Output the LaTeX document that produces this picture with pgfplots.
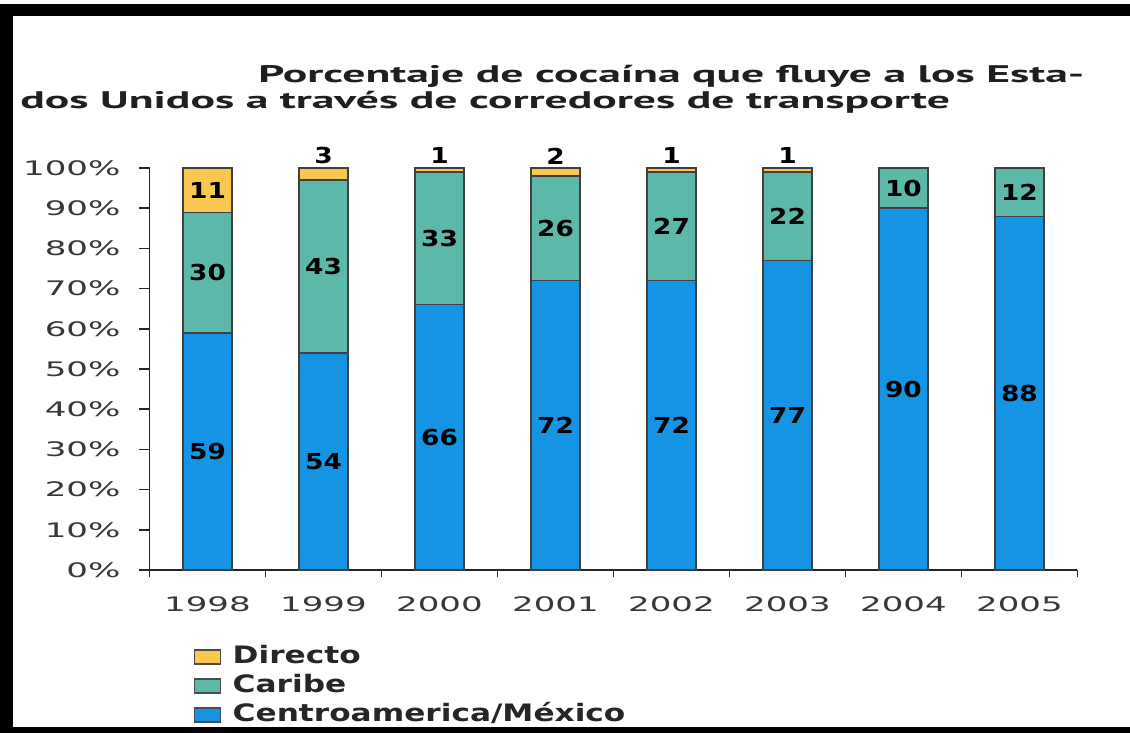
\documentclass[border=0pt]{standalone}
\usepackage{pgfplots}
\pgfplotsset{compat=1.18}
\usepackage{fontspec}
\setmainfont{DejaVu Sans}
\newfontfamily\tickfont[FakeStretch=1.7]{DejaVu Sans}
\newfontfamily\labfont[FakeStretch=1.2]{DejaVu Sans}
\newfontfamily\legfont[FakeStretch=1.3]{DejaVu Sans}
\newfontfamily\titfont[FakeStretch=1.9]{PT Sans}
\definecolor{cdir}{RGB}{249,200,80}
\definecolor{ccar}{RGB}{92,184,168}
\definecolor{ccen}{RGB}{22,148,228}
\definecolor{tickgray}{RGB}{55,55,55}

\begin{document}
\begin{tikzpicture}
\fill[white] (0,0) rectangle (565pt,366.5pt);
\path[use as bounding box] (0,0) rectangle (565pt,366.5pt);
\fill[black] (0,358.5pt) rectangle (565pt,364.5pt);
\fill[black] (0,0) rectangle (6.5pt,364.5pt);
\fill[black] (0,0) rectangle (565pt,3pt);

\node[anchor=base west, inner sep=0pt, text=black!88, font=\titfont\bfseries\fontsize{12}{14}\selectfont] at (129pt,325pt) {Porcentaje de cocaína que fluye a los Esta-};
\node[anchor=base west, inner sep=0pt, text=black!88, font=\titfont\bfseries\fontsize{12}{14}\selectfont] at (10pt,312pt) {dos Unidos a través de corredores de transporte};

\begin{axis}[
  at={(74.75pt,81.5pt)}, anchor=south west,
  scale only axis, width=464pt, height=201pt,
  ybar stacked, bar width=0.42,
  xmin=-0.5, xmax=7.5, ymin=0, ymax=100,
  clip=false,
  axis x line*=bottom, axis y line*=left,
  axis line style={black!85, line width=0.8pt},
  tick align=outside,
  ytick={0,10,20,30,40,50,60,70,80,90,100},
  yticklabels={0\%,10\%,20\%,30\%,40\%,50\%,60\%,70\%,80\%,90\%,100\%},
  yticklabel style={xshift=-6pt},
  xtick={0,1,2,3,4,5,6,7},
  xticklabels={1998,1999,2000,2001,2002,2003,2004,2005},
  xticklabel style={yshift=-5pt},
  minor xtick={-0.5,0.5,1.5,2.5,3.5,4.5,5.5,6.5,7.5},
  major x tick style={draw=none},
  major tick length=5pt, minor tick length=3.5pt,
  every tick/.style={black!85, line width=0.8pt},
  /pgf/number format/assume math mode=true,
  tick label style={font=\tickfont\fontsize{10}{12}\selectfont, text=tickgray},
  legend style={at={(0.047,-0.188)}, anchor=north west, draw=none, fill=none, inner sep=0pt,
    font=\legfont\bfseries\fontsize{12}{14}\selectfont, text=black!85, row sep=3.5pt,
    nodes={inner sep=0pt, text height=9pt, text depth=2pt},
    /tikz/every odd column/.append style={column sep=6pt}},
  legend cell align=left,
  reverse legend,
  legend image code/.code={\draw[#1, draw=black!70, line width=0.6pt] (0pt,-3.5pt) rectangle (13pt,3.5pt);},
]
\addplot[fill=ccen, draw=black!75, line width=0.7pt] coordinates {(0,59) (1,54) (2,66) (3,72) (4,72) (5,77) (6,90) (7,88)};
\addlegendentry{Centroamerica/México}
\addplot[fill=ccar, draw=black!75, line width=0.7pt] coordinates {(0,30) (1,43) (2,33) (3,26) (4,27) (5,22) (6,10) (7,12)};
\addlegendentry{Caribe}
\addplot[fill=cdir, draw=black!75, line width=0.7pt] coordinates {(0,11) (1,3) (2,1) (3,2) (4,1) (5,1) (6,0) (7,0)};
\addlegendentry{Directo}
\end{axis}

\begin{axis}[
  at={(74.75pt,81.5pt)}, anchor=south west,
  scale only axis, width=464pt, height=201pt,
  xmin=-0.5, xmax=7.5, ymin=0, ymax=100,
  hide axis, clip=false,
  nodes near coords, point meta=explicit symbolic,
  nodes near coords align=center,
  every node near coord/.append style={font=\labfont\bfseries\fontsize{11}{13}\selectfont, text=black, inner sep=0pt},
]
\addplot[draw=none, mark=none] coordinates {(0,29.5)[59] (1,27)[54] (2,33)[66] (3,36)[72] (4,36)[72] (5,38.5)[77] (6,45)[90] (7,44)[88]};
\addplot[draw=none, mark=none] coordinates {(0,74)[30] (1,75.5)[43] (2,82.5)[33] (3,85)[26] (4,85.5)[27] (5,88)[22] (6,95)[10] (7,94)[12]};
\addplot[draw=none, mark=none] coordinates {(0,94.5)[11] (1,103)[3] (2,103)[1] (3,103)[2] (4,103)[1] (5,103)[1]};
\end{axis}
\end{tikzpicture}
\end{document}
